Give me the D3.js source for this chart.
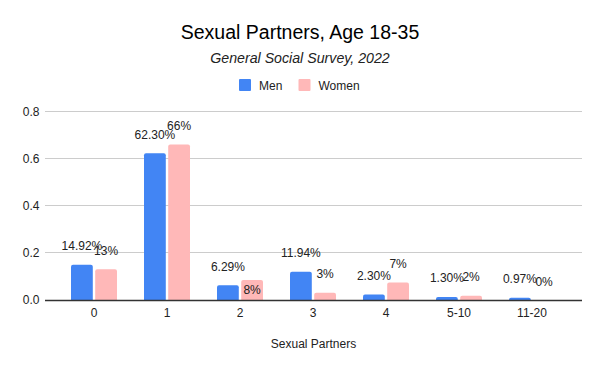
<!DOCTYPE html>
<html><head><meta charset="utf-8">
<script src="https://cdn.jsdelivr.net/npm/d3@7"></script>
<style>body{margin:0;background:#fff}svg{display:block;font-family:"Liberation Sans",Arial,sans-serif}</style>
</head><body><svg id="c" width="600" height="371"></svg>
<script>
const categories = ["0","1","2","3","4","5-10","11-20"];
const seriesNames = ["Men","Women"];
const menValues = [0.1492,0.623,0.0629,0.1194,0.023,0.013,0.0097];
const womenValues = [0.13,0.66,0.085,0.031,0.074,0.018,0];
const menLabels = ["14.92%","62.30%","6.29%","11.94%","2.30%","1.30%","0.97%"];
const womenLabels = ["13%","66%","8%","3%","7%","2%","0%"];
const yTicks = [0,0.2,0.4,0.6,0.8];
const insideLabels = ["Women|2"];

const colors = {Men:"#4285f4", Women:"#ffb8b8"};
const svg = d3.select("#c");
const x = d3.scaleBand().domain(categories).range([57.5,568.5]).padding(0);
const xs = d3.scaleBand().domain(seriesNames).range([-23,23]).paddingInner(0.1);
const y = d3.scaleLinear().domain([0,0.8]).range([300,111.5]);

// gridlines
svg.append("g").selectAll("line").data(yTicks.filter(t=>t>0)).join("line")
  .attr("x1",45).attr("x2",582).attr("y1",d=>y(d)).attr("y2",d=>y(d))
  .attr("stroke","#cccccc").attr("stroke-width",1).attr("shape-rendering","crispEdges");
// y labels
svg.append("g").selectAll("text").data(yTicks).join("text")
  .attr("x",39.5).attr("y",d=>y(d)+4).attr("text-anchor","end")
  .attr("font-size",12).attr("fill","#222").text(d=>d3.format(".1f")(d));

const data = [];
categories.forEach((c,i)=>{
  data.push({cat:c,s:"Men",v:menValues[i],label:menLabels[i],i});
  data.push({cat:c,s:"Women",v:womenValues[i],label:womenLabels[i],i});
});
function barPath(x0,w,yTop,yBot,r){
  const h = yBot-yTop; if(h<=0) return "";
  r = Math.min(r,h,w/2);
  return `M${x0},${yBot}V${yTop+r}Q${x0},${yTop} ${x0+r},${yTop}H${x0+w-r}Q${x0+w},${yTop} ${x0+w},${yTop+r}V${yBot}Z`;
}
svg.append("g").selectAll("path").data(data).join("path")
  .attr("d",d=>barPath(x(d.cat)+x.bandwidth()/2+xs(d.s), xs.bandwidth(), y(d.v), y(0), 2))
  .attr("fill",d=>colors[d.s]);

// baseline axis
svg.append("line").attr("x1",45).attr("x2",582).attr("y1",300.5).attr("y2",300.5)
  .attr("stroke","#333").attr("stroke-width",1.3);

// value labels
svg.append("g").selectAll("text").data(data).join("text")
  .attr("x",d=>x(d.cat)+x.bandwidth()/2+xs(d.s)+xs.bandwidth()/2)
  .attr("y",d=>insideLabels.includes(d.s+"|"+d.i) ? (y(d.v)+y(0))/2+4.5 : y(d.v)-14.5)
  .attr("text-anchor","middle").attr("font-size",12).attr("fill","#222").text(d=>d.label);

// x labels
svg.append("g").selectAll("text").data(categories).join("text")
  .attr("x",d=>x(d)+x.bandwidth()/2).attr("y",317).attr("text-anchor","middle")
  .attr("font-size",12).attr("fill","#222").text(d=>d);

svg.append("text").attr("x",313.5).attr("y",348).attr("text-anchor","middle")
  .attr("font-size",12).attr("fill","#222").text("Sexual Partners");

svg.append("text").attr("x",300).attr("y",38.5).attr("text-anchor","middle")
  .attr("font-size",19.5).attr("fill","#000").text("Sexual Partners, Age 18-35");
svg.append("text").attr("x",300).attr("y",63).attr("text-anchor","middle")
  .attr("font-size",14.2).attr("font-style","italic").attr("fill","#222").text("General Social Survey, 2022");

// legend
const leg = svg.append("g");
const legX = {Men:239, Women:298.5};
seriesNames.forEach(s=>{
  leg.append("rect").attr("x",legX[s]).attr("y",79).attr("width",12).attr("height",12).attr("rx",1).attr("fill",colors[s]);
  leg.append("text").attr("x",legX[s]+20).attr("y",89.5).attr("font-size",12).attr("fill","#222").text(s);
});
</script></body></html>
